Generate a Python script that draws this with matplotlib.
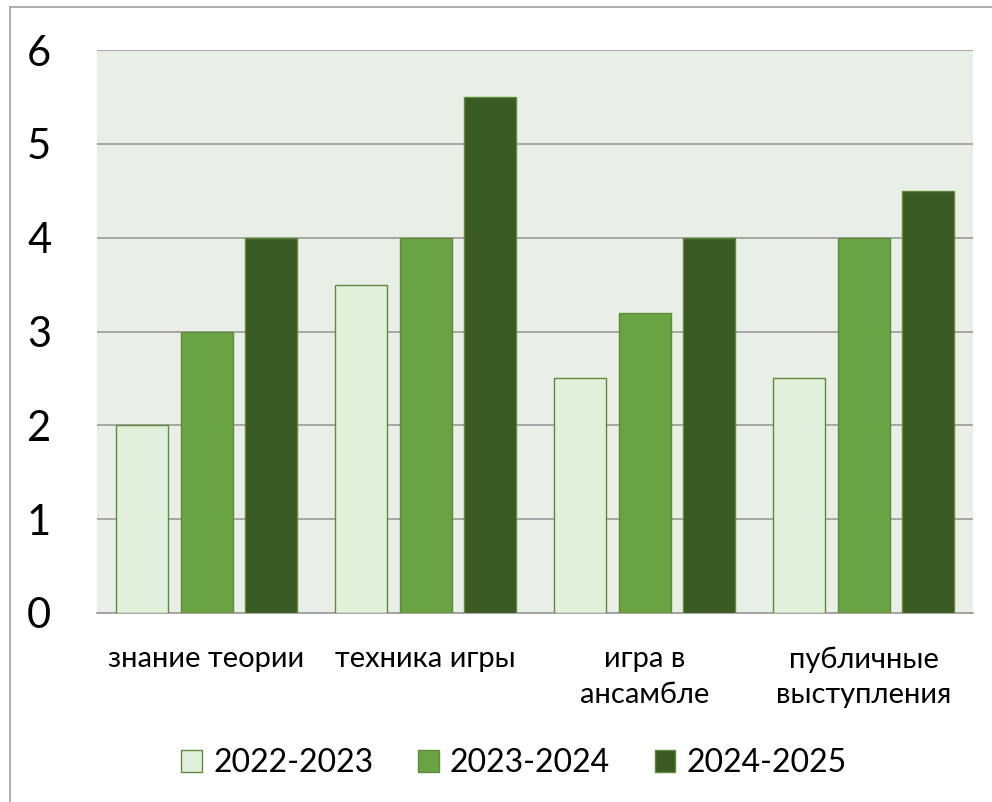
import matplotlib
matplotlib.use("Agg")
import matplotlib.pyplot as plt
import numpy as np
from matplotlib.patches import Rectangle

categories = ["знание теории", "техника игры", "игра в\nансамбле", "публичные\nвыступления"]
series_names = ["2022-2023", "2023-2024", "2024-2025"]
v_2022 = [2, 3.5, 2.5, 2.5]
v_2023 = [3, 4, 3.2, 4]
v_2024 = [4, 5.5, 4, 4.5]
yticks = [0, 1, 2, 3, 4, 5, 6]

colors = ["#E2EFDA", "#6AA343", "#3A5A23"]
edge = "#5E8A3C"

plt.rcParams['font.family'] = ['Lato', 'DejaVu Sans']

fig = plt.figure(figsize=(9.92, 8.02), dpi=100)
fig.patches.append(Rectangle((10/992, -0.1), 1.2, 1 - 7/802 + 0.1, transform=fig.transFigure,
                             fill=False, edgecolor="#A0A0A0", linewidth=1.2))
ax = fig.add_axes([97/992, 1 - 613/802, (973-97)/992, (613-50)/802])
ax.set_facecolor("#E9EFE7")

x = np.arange(len(categories))
w = 52/219
step = 64.5/219
for i, (vals, name) in enumerate(zip([v_2022, v_2023, v_2024], series_names)):
    ax.bar(x + (i - 1) * step, vals, width=w, color=colors[i], edgecolor=edge,
           linewidth=1.0, label=name, zorder=3)

ax.set_xlim(-0.5, len(categories) - 0.5)
ax.set_ylim(0, 6)
ax.set_yticks(yticks)
ax.set_yticklabels([str(t) for t in yticks], fontsize=30)
ax.yaxis.grid(True, color="#A0A0A0", linewidth=1.3, zorder=1)
ax.set_axisbelow(True)
ax.tick_params(axis='y', length=0, pad=33)
ax.tick_params(axis='x', length=0, pad=24)
ax.set_xticks(x)
ax.set_xticklabels(categories, fontsize=21, linespacing=1.45)
for s in ["left", "right", "top"]:
    ax.spines[s].set_visible(False)
ax.spines["bottom"].set_color("#A0A0A0")
ax.spines["bottom"].set_linewidth(1.3)

leg = fig.legend(loc="center", bbox_to_anchor=(514/992, 1 - 763/802), ncol=3, frameon=False,
                 fontsize=23, handlelength=0.65, handleheight=0.7, handletextpad=0.35,
                 columnspacing=1.4)

fig.savefig("out.png", dpi=100)
